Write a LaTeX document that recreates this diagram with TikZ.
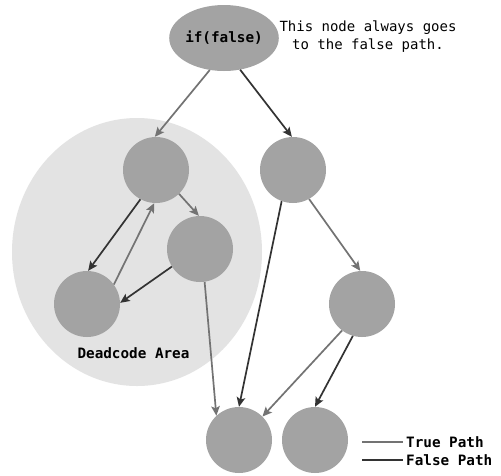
\documentclass[tikz,border=0pt]{standalone}
\usepackage{fontspec}
\newfontfamily\codefont{DejaVu Sans Mono}
\usetikzlibrary{shapes.geometric,arrows.meta}
\definecolor{nodegray}{HTML}{A3A3A3}
\definecolor{areagray}{HTML}{E3E3E3}
\definecolor{truecol}{HTML}{737373}
\definecolor{falsecol}{HTML}{333333}
\tikzset{
  blk/.style={circle,fill=nodegray,minimum size=66pt,inner sep=0pt},
  truepath/.style={draw=truecol,line width=1.7pt,-{Stealth[length=9.5pt,width=8.5pt,inset=2pt]}},
  falsepath/.style={draw=falsecol,line width=1.7pt,-{Stealth[length=9.5pt,width=8.5pt,inset=2pt]}},
  lbl/.style={font=\codefont\bfseries\fontsize{14.3}{17}\selectfont,inner sep=0pt},
}
\begin{document}
\begin{tikzpicture}[x=1pt,y=-1pt]
\useasboundingbox (0,0) rectangle (501,475);
\fill[white] (0,0) rectangle (501,475);

% unreachable region
\node[ellipse,fill=areagray,minimum width=250pt,minimum height=268pt,inner sep=0pt] (area) at (137,252) {};
\node[lbl] (arealbl) at (133.5,353) {Deadcode Area};

% condition node and its note
\node[ellipse,fill=nodegray,minimum width=88pt,minimum height=66pt,inner sep=0pt,
      font=\codefont\bfseries\fontsize{14.3}{17}\selectfont] (cond) at (224,38) {if(false)};
\node[align=center,inner sep=0pt,font=\codefont\fontsize{14}{18}\selectfont] (note) at (368,37)
  {This node always goes\\to the false path.};

% blocks
\node[blk] (a) at (156,170) {};
\node[blk] (b) at (200,249) {};
\node[blk] (c) at (87,304) {};
\node[blk] (d) at (293,170) {};
\node[blk] (e) at (362,304) {};
\node[blk] (f) at (239,440) {};
\node[blk] (g) at (315,440) {};

% edges
\draw[truepath]  (cond.246) -- (a.92);
\draw[falsepath] (cond.297) -- (d.92);
\draw[falsepath] (a.242) -- (c.88);
\draw[truepath]  (c.36)  -- (a.267);
\draw[truepath]  (a.314) -- (b.92);
\draw[falsepath] (b.212) -- (c.2);
\draw[truepath]  (b.278) -- (f.133);
\draw[falsepath] (d.250) -- (f.90);
\draw[truepath]  (d.299) -- (e.93);
\draw[truepath]  (e.233) -- (f.45);
\draw[falsepath] (e.254) -- (g.90);

% legend
\coordinate (t0) at (362,442);
\coordinate (t1) at (403,442);
\coordinate (f0) at (362,460);
\coordinate (f1) at (403,460);
\draw[truecol,line width=1.4pt] (t0) -- (t1);
\draw[falsecol,line width=1.4pt] (f0) -- (f1);
\node[lbl,anchor=west] (truelbl) at (406,442) {True Path};
\node[lbl,anchor=west] (falselbl) at (406,460) {False Path};
\end{tikzpicture}
\end{document}
